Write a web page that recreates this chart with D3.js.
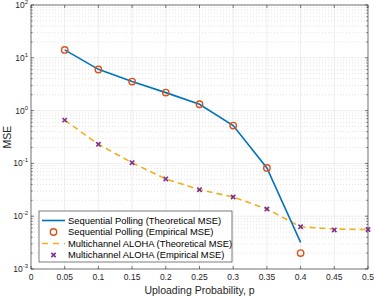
<!DOCTYPE html>
<html>
<head>
<meta charset="utf-8">
<script src="https://cdn.jsdelivr.net/npm/d3@7"></script>
<style>
  body { margin: 0; background: #fff; }
  svg { font-family: "Liberation Sans", Arial, sans-serif; }
</style>
</head>
<body>
<svg id="chart" width="374" height="297"></svg>
<script>
// DATA -----------------------------------------------------------------------
var probs = [0.05, 0.1, 0.15, 0.2, 0.25, 0.3, 0.35, 0.4];
var pollTheory = [14.1, 6.05, 3.55, 2.19, 1.32, 0.52, 0.082, 0.0032];
var pollEmp = [14.1, 6.0, 3.55, 2.19, 1.32, 0.52, 0.082, 0.002];

var alohaProbs = [0.05, 0.1, 0.15, 0.2, 0.25, 0.3, 0.35, 0.4, 0.45, 0.5];
var alohaTheory = [0.66, 0.23, 0.103, 0.0507, 0.0318, 0.0231, 0.0137, 0.0063, 0.0057, 0.0056];
var alohaEmp = [0.66, 0.23, 0.103, 0.0507, 0.0318, 0.0231, 0.0137, 0.0063, 0.0055, 0.0056];

var xTicks = [0, 0.05, 0.1, 0.15, 0.2, 0.25, 0.3, 0.35, 0.4, 0.45, 0.5];
var yExps = [-3, -2, -1, 0, 1, 2];

var legendLabels = [
  "Sequential Polling (Theoretical MSE)",
  "Sequential Polling (Empirical MSE)",
  "Multichannel ALOHA (Theoretical MSE)",
  "Multichannel ALOHA (Empirical MSE)"
];

// LAYOUT ---------------------------------------------------------------------
var margin = {left: 31, top: 5, right: 6, bottom: 28};
var width = 374, height = 297;
var svg = d3.select("#chart");

var x = d3.scaleLinear().domain([0, 0.5]).range([margin.left, width - margin.right]);
var y = d3.scaleLog().domain([1e-3, 1e2]).range([height - margin.bottom, margin.top]);

var x0 = x.range()[0], x1 = x.range()[1];
var y0 = y.range()[0], y1 = y.range()[1];

var blue = "#0072BD", orange = "#D95319", yellow = "#EDB120", purple = "#7E2F8E";
var axisColor = "#262626";

// Grid -----------------------------------------------------------------------
var grid = svg.append("g");

// minor grid (dotted)
var minor = [];
for (var e = -3; e < 2; e++) {
  for (var m = 2; m <= 9; m++) minor.push(m * Math.pow(10, e));
}
grid.selectAll(".minor").data(minor).enter().append("line")
  .attr("x1", x0).attr("x2", x1)
  .attr("y1", function(d) { return y(d); }).attr("y2", function(d) { return y(d); })
  .attr("stroke", "#d0d0d0").attr("stroke-width", 0.6)
  .attr("stroke-dasharray", "1,2");

grid.selectAll(".vmaj").data(xTicks).enter().append("line")
  .attr("x1", function(d) { return x(d); }).attr("x2", function(d) { return x(d); })
  .attr("y1", y0).attr("y2", y1)
  .attr("stroke", "#e6e6e6").attr("stroke-width", 0.7);

grid.selectAll(".hmaj").data(yExps).enter().append("line")
  .attr("x1", x0).attr("x2", x1)
  .attr("y1", function(d) { return y(Math.pow(10, d)); }).attr("y2", function(d) { return y(Math.pow(10, d)); })
  .attr("stroke", "#e6e6e6").attr("stroke-width", 0.7);

// Box + ticks ----------------------------------------------------------------
var axes = svg.append("g");
axes.append("rect")
  .attr("x", x0).attr("y", y1).attr("width", x1 - x0).attr("height", y0 - y1)
  .attr("fill", "none").attr("stroke", axisColor).attr("stroke-width", 0.6);

xTicks.forEach(function(t) {
  axes.append("line").attr("x1", x(t)).attr("x2", x(t)).attr("y1", y0).attr("y2", y0 - 3)
    .attr("stroke", axisColor).attr("stroke-width", 0.6);
  axes.append("line").attr("x1", x(t)).attr("x2", x(t)).attr("y1", y1).attr("y2", y1 + 3)
    .attr("stroke", axisColor).attr("stroke-width", 0.6);
  axes.append("text").attr("x", x(t)).attr("y", y0 + 11)
    .attr("text-anchor", "middle").attr("font-size", 8.5).attr("fill", axisColor)
    .text(d3.format("~g")(t));
});

yExps.forEach(function(ex) {
  var yy = y(Math.pow(10, ex));
  axes.append("line").attr("x1", x0).attr("x2", x0 + 3).attr("y1", yy).attr("y2", yy)
    .attr("stroke", axisColor).attr("stroke-width", 0.6);
  axes.append("line").attr("x1", x1).attr("x2", x1 - 3).attr("y1", yy).attr("y2", yy)
    .attr("stroke", axisColor).attr("stroke-width", 0.6);
  var t = axes.append("text").attr("x", x0 - 3).attr("y", yy + 3)
    .attr("text-anchor", "end").attr("font-size", 8.5).attr("fill", axisColor);
  t.append("tspan").text("10");
  t.append("tspan").attr("dy", -4).attr("font-size", 6).text(ex);
});
minor.forEach(function(v) {
  axes.append("line").attr("x1", x0).attr("x2", x0 + 1.8).attr("y1", y(v)).attr("y2", y(v))
    .attr("stroke", axisColor).attr("stroke-width", 0.5);
  axes.append("line").attr("x1", x1).attr("x2", x1 - 1.8).attr("y1", y(v)).attr("y2", y(v))
    .attr("stroke", axisColor).attr("stroke-width", 0.5);
});

// Axis labels
svg.append("text").attr("x", (x0 + x1) / 2).attr("y", 294)
  .attr("text-anchor", "middle").attr("font-size", 10.5).attr("fill", axisColor)
  .text("Uploading Probability, p");
svg.append("text").attr("transform", "translate(11," + ((y0 + y1) / 2) + ") rotate(-90)")
  .attr("text-anchor", "middle").attr("font-size", 10.5).attr("fill", axisColor)
  .text("MSE");

// Series ---------------------------------------------------------------------
var plot = svg.append("g");
var line = d3.line().x(function(d) { return x(d[0]); }).y(function(d) { return y(d[1]); });

plot.append("path").datum(d3.zip(alohaProbs, alohaTheory))
  .attr("d", line).attr("fill", "none").attr("stroke", yellow)
  .attr("stroke-width", 1.6).attr("stroke-dasharray", "6,4");

plot.append("path").datum(d3.zip(probs, pollTheory))
  .attr("d", line).attr("fill", "none").attr("stroke", blue).attr("stroke-width", 1.6);

plot.selectAll(".emp").data(d3.zip(probs, pollEmp)).enter().append("circle")
  .attr("cx", function(d) { return x(d[0]); }).attr("cy", function(d) { return y(d[1]); })
  .attr("r", 3.2).attr("fill", "none").attr("stroke", orange).attr("stroke-width", 1.4);

var cross = d3.symbol().type(d3.symbolX).size(14);
plot.selectAll(".aemp").data(d3.zip(alohaProbs, alohaEmp)).enter().append("path")
  .attr("d", cross)
  .attr("transform", function(d) { return "translate(" + x(d[0]) + "," + y(d[1]) + ")"; })
  .attr("fill", "none").attr("stroke", purple).attr("stroke-width", 1.6);

// Legend ---------------------------------------------------------------------
var lg = svg.append("g");
lg.append("rect").attr("x", 39).attr("y", 211).attr("width", 193).attr("height", 51)
  .attr("fill", "#fff").attr("stroke", axisColor).attr("stroke-width", 0.6);

var rowY = [220.5, 232, 243.5, 255];
legendLabels.forEach(function(lbl, i) {
  var yy = rowY[i];
  if (i == 0) {
    lg.append("line").attr("x1", 42).attr("x2", 65).attr("y1", yy).attr("y2", yy)
      .attr("stroke", blue).attr("stroke-width", 1.6);
  } else if (i == 1) {
    lg.append("circle").attr("cx", 53.5).attr("cy", yy).attr("r", 3.2)
      .attr("fill", "none").attr("stroke", orange).attr("stroke-width", 1.4);
  } else if (i == 2) {
    lg.append("line").attr("x1", 42).attr("x2", 65).attr("y1", yy).attr("y2", yy)
      .attr("stroke", yellow).attr("stroke-width", 1.6).attr("stroke-dasharray", "6,5");
  } else {
    lg.append("path").attr("d", cross).attr("transform", "translate(53.5," + yy + ")")
      .attr("fill", "none").attr("stroke", purple).attr("stroke-width", 1.6);
  }
  lg.append("text").attr("x", 68).attr("y", yy + 3.4)
    .attr("font-size", 9.4).attr("fill", "#000").text(lbl);
});
</script>
</body>
</html>
